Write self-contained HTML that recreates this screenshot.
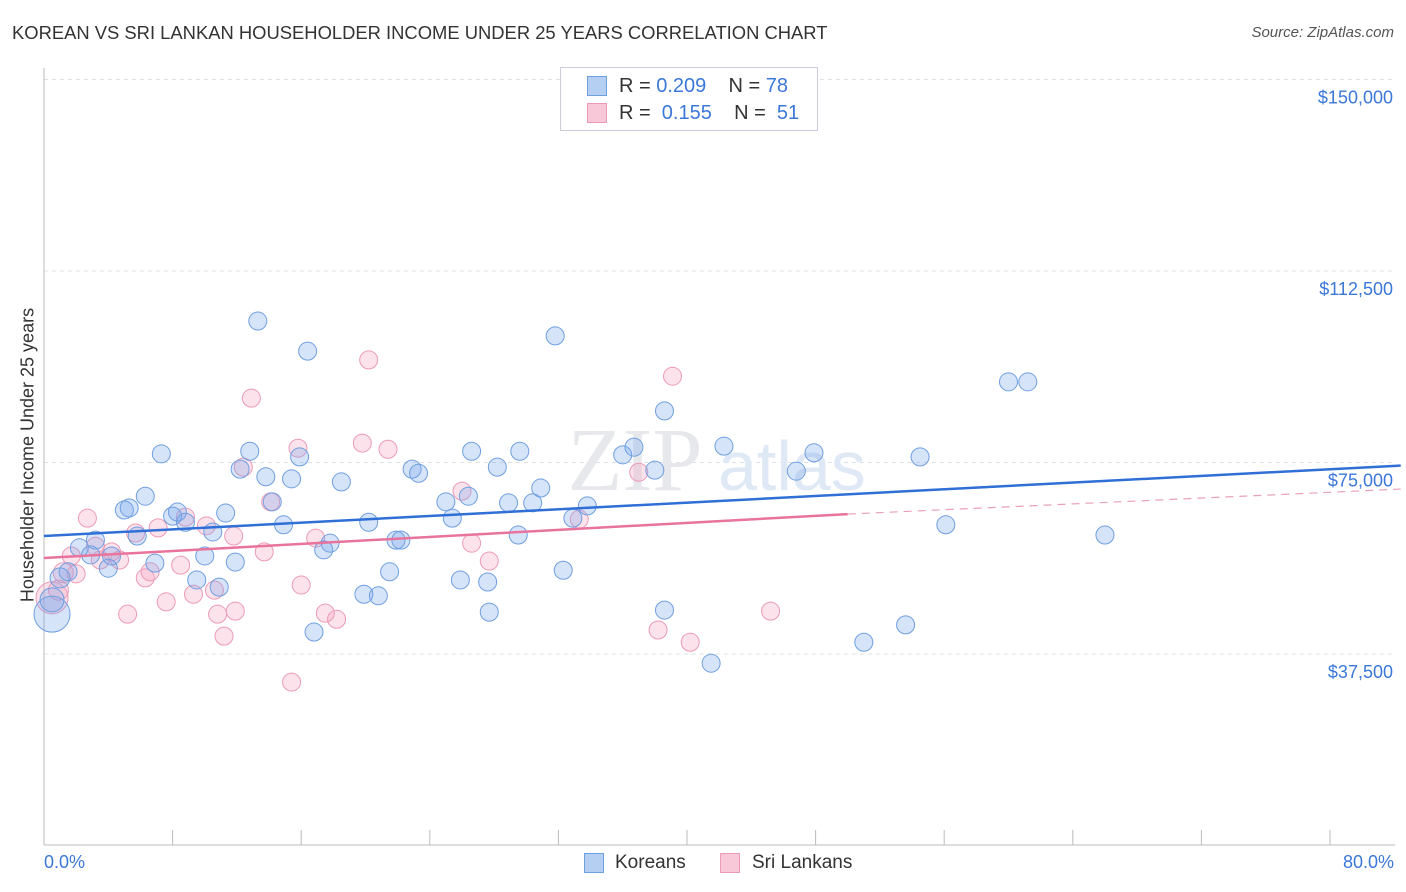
<!DOCTYPE html>
<html><head><meta charset="utf-8">
<style>
body{margin:0;background:#fff;font-family:"Liberation Sans",sans-serif;}
#wrap{position:relative;width:1406px;height:892px;overflow:hidden;}
.t{position:absolute;white-space:nowrap;}
</style></head><body>
<div id="wrap">
<div class="t" style="left:12px;top:22px;font-size:18.4px;color:#333;">KOREAN VS SRI LANKAN HOUSEHOLDER INCOME UNDER 25 YEARS CORRELATION CHART</div>
<div class="t" style="right:12px;top:24px;font-size:15px;color:#555;font-style:italic;">Source: ZipAtlas.com</div>
<svg id="svg" width="1406" height="892" style="position:absolute;left:0;top:0"></svg>
</div>
<script>
const yTicks=[37500,75000,112500,150000];
const yTickLabels=["$37,500","$75,000","$112,500","$150,000"];
const koreanX=[0.5,0.5,1.0,1.5,2.2,3.2,2.9,4.0,4.2,5.0,5.3,6.3,5.8,6.9,7.3,8.0,8.3,8.8,9.5,10.0,10.5,10.9,11.3,11.9,12.2,12.8,13.3,13.8,14.2,14.9,15.4,15.9,16.4,16.8,17.4,17.8,18.5,20.2,19.9,20.8,21.5,21.9,22.2,22.9,23.3,25.0,25.4,25.9,26.4,26.6,27.6,27.7,28.2,28.9,29.5,29.6,30.4,30.9,31.8,32.3,32.9,33.8,36.0,36.7,38.0,38.6,38.6,41.5,42.3,46.8,47.9,51.0,53.6,54.5,56.1,60.0,61.2,66.0];
const koreanY=[45.3,48.1,52.4,53.6,58.3,59.8,56.9,54.3,56.7,65.7,66.1,68.4,60.6,55.3,76.7,64.5,65.3,63.3,52.0,56.7,61.4,50.6,65.1,55.5,73.7,77.2,102.7,72.2,67.3,62.8,71.8,76.1,96.8,41.8,57.9,59.2,71.2,63.3,49.2,48.9,53.6,59.8,59.8,73.7,72.9,67.3,64.1,52.0,68.4,77.2,51.6,45.7,74.1,67.1,60.8,77.2,67.1,70.0,99.8,53.9,64.1,66.5,76.5,78.0,73.5,85.1,46.1,35.7,78.2,73.3,76.9,39.8,43.2,76.1,62.8,90.8,90.8,60.8];
const koreanR=[18,12,10,9,9,9,9,9,9,9,9,9,9,9,9,9,9,9,9,9,9,9,9,9,9,9,9,9,9,9,9,9,9,9,9,9,9,9,9,9,9,9,9,9,9,9,9,9,9,9,9,9,9,9,9,9,9,9,9,9,9,9,9,9,9,9,9,9,9,9,9,9,9,9,9,9,9,9];
const lankanX=[0.5,0.9,1.2,1.7,2.0,2.7,3.2,3.5,4.2,4.7,5.2,5.7,6.3,6.6,7.1,7.6,8.5,8.8,9.3,10.1,10.6,10.8,11.2,11.8,11.9,12.4,12.9,13.7,14.1,15.4,15.8,16.0,16.9,17.5,18.2,19.8,20.2,21.4,26.0,26.6,27.7,33.3,37.0,38.2,39.1,40.2,45.2];
const lankanY=[48.5,50.0,53.4,56.7,53.2,64.1,58.6,55.9,57.5,55.9,45.3,61.2,52.4,53.6,62.2,47.7,54.9,64.3,49.2,62.6,50.0,45.3,41.0,60.6,45.9,74.1,87.6,57.5,67.3,32.0,77.8,51.0,60.2,45.5,44.3,78.8,95.1,77.6,69.4,59.2,55.7,63.9,73.1,42.2,91.9,39.8,45.9];
const lankanR=[16,10,10,9,9,9,9,9,9,9,9,9,9,9,9,9,9,9,9,9,9,9,9,9,9,9,9,9,9,9,9,9,9,9,9,9,9,9,9,9,9,9,9,9,9,9,9];
const koreanTrend=[60.6,74.4];
const lankanTrend=[56.3,64.9,69.8];

const NS="http://www.w3.org/2000/svg";
const svg=document.getElementById('svg');
const X0=44,X1=1330,Y0=845.5;
const sx=v=>X0+(v/80)*(X1-X0);
const sy=v=>Y0-(v/37500)*191.5;
function mk(tag,attrs,parent){const e=document.createElementNS(NS,tag);for(const k in attrs)e.setAttribute(k,attrs[k]);(parent||svg).appendChild(e);return e;}

yTicks.forEach((t,i)=>{
  const g=mk('line',{x1:X0,x2:1395,y1:sy(t),y2:sy(t),stroke:'#dde0e6','stroke-dasharray':'4,4'});
  
  
  const l=mk('text',{x:1393,y:sy(t)+24,'text-anchor':'end','font-size':18,fill:'#3b78d8','font-family':'Liberation Sans'});
  l.textContent=yTickLabels[i];
  
  
});
const ya=mk('line',{x1:X0,x2:X0,y1:68,y2:845,stroke:'#bbb'});


const xa=mk('line',{x1:X0,x2:1395,y1:845,y2:845,stroke:'#bbb'});


for(let i=0;i<=10;i++){
  const tk=mk('line',{x1:sx(i*8),x2:sx(i*8),y1:830,y2:845,stroke:'#bbb'});
  
  
}
const wm=mk('text',{x:635,y:490,'text-anchor':'middle','font-size':90,fill:'#e6e8ec','font-family':'Liberation Serif'});
wm.textContent='ZIP';


const wm2=mk('text',{x:718,y:490,'font-size':70,fill:'#dfe8f5','font-family':'Liberation Sans'});
wm2.textContent='atlas';



lankanX.forEach((x,i)=>{
  const c=mk('circle',{cx:sx(x),cy:sy(lankanY[i]*1000),r:lankanR[i],fill:'rgba(244,160,190,0.3)',stroke:'#ec9ab8','stroke-width':1});
  
  
});
koreanX.forEach((x,i)=>{
  const c=mk('circle',{cx:sx(x),cy:sy(koreanY[i]*1000),r:koreanR[i],fill:'rgba(120,165,235,0.3)',stroke:'#6f9fe0','stroke-width':1});
  
  
});
const kl=mk('line',{x1:sx(0),y1:sy(koreanTrend[0]*1000),x2:sx(84.4),y2:sy(koreanTrend[1]*1000),stroke:'#2f6fd6','stroke-width':2.5});


const pl=mk('line',{x1:sx(0),y1:sy(lankanTrend[0]*1000),x2:sx(50),y2:sy(lankanTrend[1]*1000),stroke:'#e8739c','stroke-width':2.5});


const pd=mk('line',{x1:sx(50),y1:sy(lankanTrend[1]*1000),x2:sx(84.4),y2:sy(lankanTrend[2]*1000),stroke:'#e8a0b8','stroke-width':1.2,'stroke-dasharray':'8,6'});


</script>
<div class="t" style="top:455px;transform:translate(-50%,-50%) rotate(-90deg);left:28px;font-size:18px;color:#333;">Householder Income Under 25 years</div>
<div class="t" style="left:44px;top:852px;font-size:18px;color:#3b78d8;">0.0%</div>
<div class="t" style="right:12px;top:852px;font-size:18px;color:#3b78d8;">80.0%</div>
<div class="t" style="left:560px;top:67px;width:256px;height:62px;border:1px solid #ccd;background:#fff;">
  <div class="t" style="left:26px;top:8px;width:20px;height:20px;background:#b5cff3;border:1px solid #6f9fe0;box-sizing:border-box;"></div>
  <div class="t" style="left:58px;top:7px;font-size:20px;color:#333;">R = <span style="color:#3b78d8">0.209</span>&nbsp;&nbsp;&nbsp; N = <span style="color:#3b78d8">78</span></div>
  <div class="t" style="left:26px;top:35px;width:20px;height:20px;background:#f8c8d8;border:1px solid #ec9ab8;box-sizing:border-box;"></div>
  <div class="t" style="left:58px;top:34px;font-size:20px;color:#333;">R = &nbsp;<span style="color:#3b78d8">0.155</span>&nbsp;&nbsp;&nbsp; N = &nbsp;<span style="color:#3b78d8">51</span></div>
</div>
<div class="t" style="left:584px;top:853px;width:20px;height:20px;background:#b5cff3;border:1px solid #6f9fe0;box-sizing:border-box;"></div>
<div class="t" style="left:615px;top:852px;font-size:19px;color:#333;">Koreans</div>
<div class="t" style="left:720px;top:853px;width:20px;height:20px;background:#f8c8d8;border:1px solid #ec9ab8;box-sizing:border-box;"></div>
<div class="t" style="left:752px;top:852px;font-size:19px;color:#333;">Sri Lankans</div>
</body></html>
